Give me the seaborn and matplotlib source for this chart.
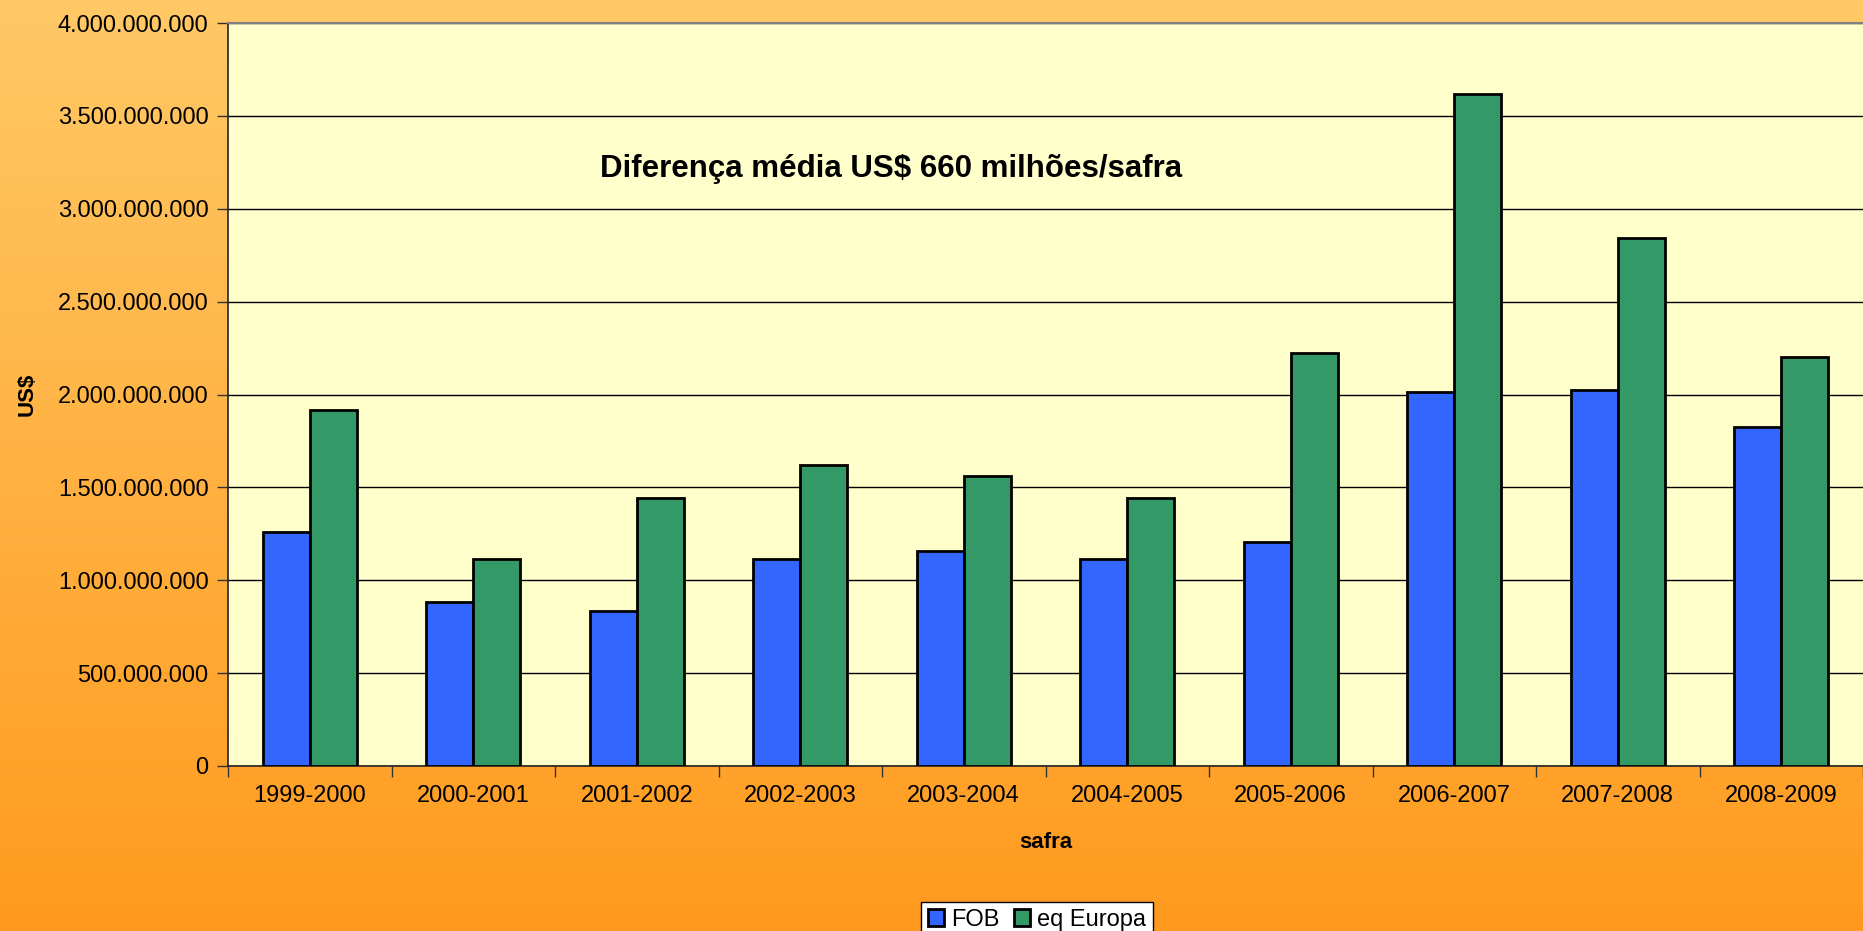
import numpy as np
import pandas as pd
import matplotlib
matplotlib.use("Agg")
import matplotlib.pyplot as plt
from matplotlib.ticker import FuncFormatter, FixedLocator
import seaborn as sns

# data
safras = ["1999-2000", "2000-2001", "2001-2002", "2002-2003", "2003-2004",
          "2004-2005", "2005-2006", "2006-2007", "2007-2008", "2008-2009"]
fob = [1.259e9, 0.882e9, 0.837e9, 1.112e9, 1.157e9,
       1.112e9, 1.208e9, 2.015e9, 2.026e9, 1.827e9]
eq_europa = [1.917e9, 1.112e9, 1.444e9, 1.623e9, 1.559e9,
             1.444e9, 2.224e9, 3.617e9, 2.843e9, 2.204e9]
series = ["FOB", "eq Europa"]
colors = ["#3366FF", "#339966"]

df = pd.DataFrame({
    "safra": safras * 2,
    "valor": fob + eq_europa,
    "serie": [series[0]] * len(safras) + [series[1]] * len(safras),
})

sns.set_theme(style="white")
plt.rcParams["font.family"] = ["Liberation Sans", "DejaVu Sans"]
plt.rcParams["text.color"] = "black"
plt.rcParams["axes.labelcolor"] = "black"
plt.rcParams["xtick.color"] = "black"
plt.rcParams["ytick.color"] = "black"

W, H = 1863, 931
fig = plt.figure(figsize=(W / 100, H / 100), dpi=100)

# orange gradient background
bg = fig.add_axes([0, 0, 1, 1], zorder=-10)
top = np.array([255, 201, 102]) / 255
bot = np.array([255, 154, 30]) / 255
t = np.linspace(0, 1, 256)[:, None, None]
grad = top * (1 - t) + bot * t
grad = np.repeat(grad, 4, axis=1)
bg.imshow(grad, aspect="auto", extent=[0, 1, 0, 1])
bg.axis("off")

left, right, top_px, bottom_px = 228, 1863, 23, 766
ax = fig.add_axes([left / W, 1 - bottom_px / H, (right - left) / W, (bottom_px - top_px) / H])
ax.set_facecolor("#FFFFCC")

sns.barplot(data=df, x="safra", y="valor", hue="serie", palette=colors,
            width=0.575, edgecolor="black", linewidth=2, saturation=1,
            ax=ax, legend=True, zorder=3)

ax.set_ylim(0, 4e9)
ax.set_xlim(-0.5, len(safras) - 0.5)
ax.set_yticks(np.arange(0, 4.01e9, 5e8))
ax.yaxis.set_major_formatter(FuncFormatter(lambda v, p: f"{v:,.0f}".replace(",", ".")))
ax.grid(axis="y", color="black", linewidth=1, zorder=0)
ax.set_axisbelow(True)

ax.tick_params(axis="y", which="major", length=8, width=1, color="#333333",
               labelsize=17, pad=6, left=True)
ax.tick_params(axis="x", which="major", length=0, labelsize=17, pad=14)
ax.xaxis.set_minor_locator(FixedLocator(np.arange(-0.5, len(safras), 1)))
ax.tick_params(axis="x", which="minor", length=8, width=1, color="#333333", bottom=True)

for s in ["left", "bottom"]:
    ax.spines[s].set_color("#222222")
    ax.spines[s].set_linewidth(1.2)
ax.spines["top"].set_color("#808080")
ax.spines["top"].set_linewidth(1.5)
ax.spines["right"].set_visible(False)

ax.set_xlabel("safra", fontsize=16, fontweight="bold", labelpad=18)
ax.set_ylabel("")
fig.text(27 / W, 1 - 394 / H, "US$", rotation=90, ha="center", va="center",
         fontsize=16, fontweight="bold")

ax.text(891 / W, 1 - 169 / H, "Diferença média US$ 660 milhões/safra",
        transform=fig.transFigure, ha="center", va="center",
        fontsize=22.5, fontweight="bold")

handles, labels = ax.get_legend_handles_labels()
ax.get_legend().remove()
leg = fig.legend(handles, labels, loc="upper center", ncol=2,
                 bbox_to_anchor=(1037 / W, 1 - 890 / H), fontsize=17,
                 frameon=True, fancybox=False, edgecolor="black", framealpha=1,
                 handlelength=0.7, handleheight=0.7, handletextpad=0.3,
                 columnspacing=0.6, borderpad=0.3)
leg.get_frame().set_facecolor("white")
leg.get_frame().set_linewidth(1)

fig.savefig("out.png", dpi=100)
